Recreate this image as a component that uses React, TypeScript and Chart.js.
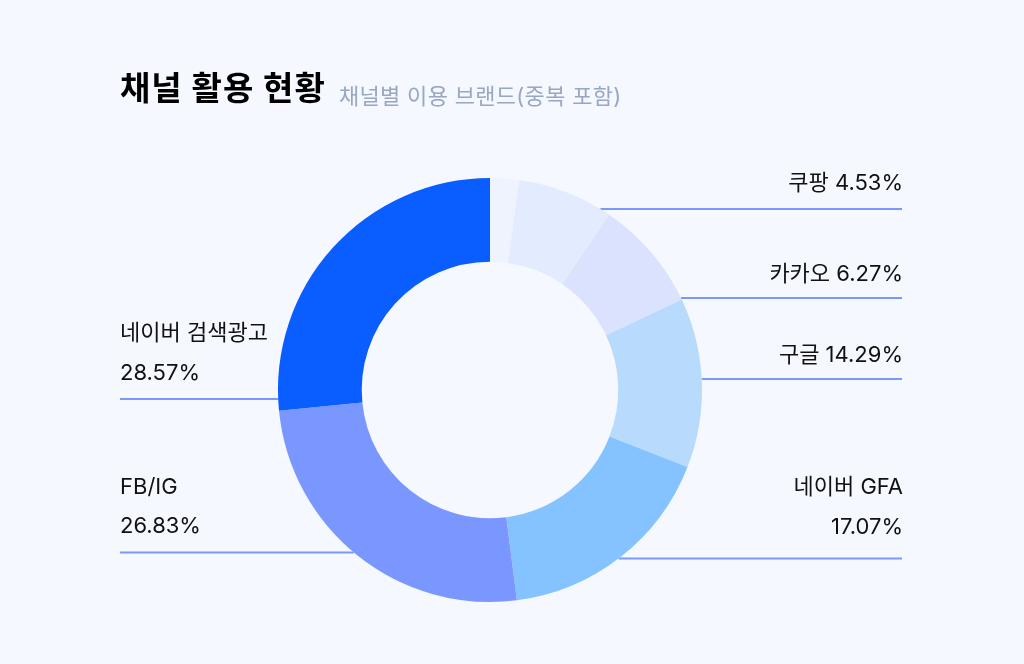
import React, { useEffect, useRef } from "react";
import { Chart, registerables } from "chart.js";

Chart.register(...registerables);

// ---- data ----
const CATEGORIES = ["기타", "쿠팡", "카카오", "구글", "네이버 GFA", "FB/IG", "네이버 검색광고"];
const SLICE_VALUES = [2.22, 7.28, 8.49, 12.93, 17.06, 25.47, 26.56];
const SLICE_COLORS = ["#EEF3FE", "#E2ECFE", "#DAE2FD", "#B8DBFD", "#84C3FF", "#7A97FF", "#0A5EFF"];

const LABEL_NAMES = ["쿠팡", "카카오", "구글", "네이버 GFA", "네이버 검색광고", "FB/IG"];
const LABEL_PCTS = ["4.53%", "6.27%", "14.29%", "17.07%", "28.57%", "26.83%"];

const TITLE = "채널 활용 현황";
const SUBTITLE = "채널별 이용 브랜드(중복 포함)";

// ---- layout (positions only) ----
type LabelLayout = { side: "left" | "right"; twoLine: boolean; textY: number[]; lineY: number };
const LABEL_LAYOUT: LabelLayout[] = [
  { side: "right", twoLine: false, textY: [181.5], lineY: 209 },
  { side: "right", twoLine: false, textY: [272.5], lineY: 298 },
  { side: "right", twoLine: false, textY: [353.5], lineY: 379 },
  { side: "right", twoLine: true, textY: [486, 526], lineY: 558.5 },
  { side: "left", twoLine: true, textY: [332, 372], lineY: 399 },
  { side: "left", twoLine: true, textY: [486, 525], lineY: 552.5 },
];
const LEFT_X = 120;
const RIGHT_TEXT_X = 903;
const RIGHT_LINE_X = 902;
const FONT = "Inter, 'Noto Sans CJK KR', sans-serif";

const leaderLines = {
  id: "leaderLines",
  beforeDatasetsDraw(chart: any) {
    const arc = chart.getDatasetMeta(0).data[0];
    if (!arc) return;
    const { x: cx, y: cy, outerRadius: R } = arc;
    const ctx = chart.ctx;
    ctx.save();
    ctx.strokeStyle = "#7B98FF";
    ctx.lineWidth = 2;
    LABEL_LAYOUT.forEach((l) => {
      const dy = l.lineY - cy;
      const half = Math.sqrt(Math.max(R * R - dy * dy, 0));
      ctx.beginPath();
      if (l.side === "right") {
        ctx.moveTo(RIGHT_LINE_X, l.lineY);
        ctx.lineTo(cx + half, l.lineY);
      } else {
        ctx.moveTo(LEFT_X, l.lineY);
        ctx.lineTo(cx - half, l.lineY);
      }
      ctx.stroke();
    });
    ctx.restore();
  },
};

export default function App() {
  const ref = useRef<HTMLCanvasElement>(null);
  useEffect(() => {
    if (!ref.current) return;
    const chart = new Chart(ref.current, {
      type: "doughnut",
      data: {
        labels: CATEGORIES,
        datasets: [
          {
            data: SLICE_VALUES,
            backgroundColor: SLICE_COLORS,
            borderWidth: 0,
            hoverOffset: 0,
          },
        ],
      },
      options: {
        responsive: false,
        maintainAspectRatio: false,
        animation: false,
        cutout: "60.5%",
        layout: { padding: { left: 278, right: 322, top: 178, bottom: 62 } },
        plugins: { legend: { display: false }, tooltip: { enabled: false } },
        events: [],
      },
      plugins: [leaderLines],
    });
    return () => chart.destroy();
  }, []);

  const textStyle = (y: number, side: "left" | "right"): React.CSSProperties => ({
    position: "absolute",
    top: y - 11,
    height: 22,
    lineHeight: "22px",
    fontSize: 22,
    color: "#111",
    whiteSpace: "nowrap",
    ...(side === "left" ? { left: LEFT_X } : { right: 1024 - RIGHT_TEXT_X }),
  });

  return (
    <div
      style={{
        position: "fixed",
        left: 0,
        top: 0,
        width: 1024,
        height: 664,
        background: "#F5F8FF",
        fontFamily: FONT,
        overflow: "hidden",
      }}
    >
      <canvas ref={ref} width={1024} height={664} style={{ position: "absolute", left: 0, top: 0, width: 1024, height: 664 }} />
      <div
        style={{
          position: "absolute",
          left: 120,
          top: 88 - 16.5,
          height: 33,
          lineHeight: "33px",
          fontSize: 33,
          fontWeight: 700,
          letterSpacing: 1,
          color: "#000",
          whiteSpace: "nowrap",
        }}
      >
        {TITLE}
      </div>
      <div
        style={{
          position: "absolute",
          left: 339,
          top: 96 - 11,
          height: 22,
          lineHeight: "22px",
          fontSize: 22,
          letterSpacing: 0.3,
          color: "#98A7C4",
          whiteSpace: "nowrap",
        }}
      >
        {SUBTITLE}
      </div>
      {LABEL_LAYOUT.map((l, i) => {
        if (l.twoLine) {
          return (
            <React.Fragment key={i}>
              <div style={textStyle(l.textY[0], l.side)}>{LABEL_NAMES[i]}</div>
              <div style={textStyle(l.textY[1], l.side)}>{LABEL_PCTS[i]}</div>
            </React.Fragment>
          );
        }
        return (
          <div key={i} style={textStyle(l.textY[0], l.side)}>
            {LABEL_NAMES[i] + " " + LABEL_PCTS[i]}
          </div>
        );
      })}
    </div>
  );
}
